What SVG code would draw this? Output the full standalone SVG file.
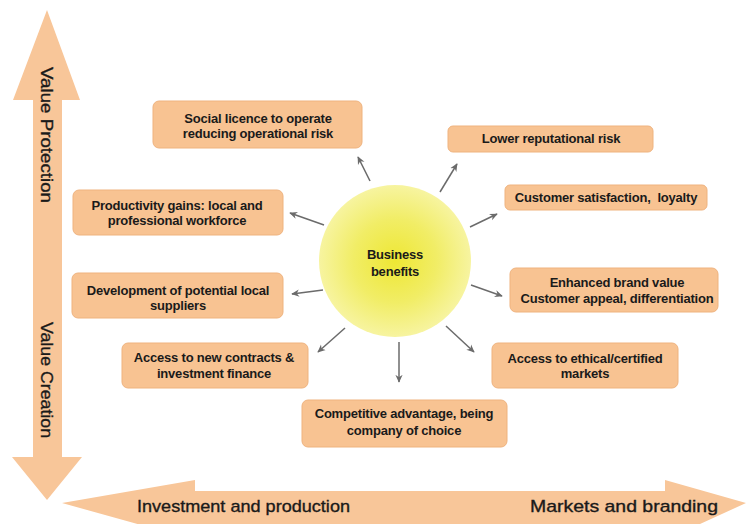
<svg xmlns="http://www.w3.org/2000/svg" width="748" height="524" viewBox="0 0 748 524">
  <defs>
    <radialGradient id="sunFill" cx="50%" cy="50%" r="50%">
      <stop offset="0" stop-color="#eee734"/>
      <stop offset="0.55" stop-color="#f1ed66"/>
      <stop offset="1" stop-color="#f7f4a0"/>
    </radialGradient>
    <marker id="head" viewBox="0 0 10 10" refX="9" refY="5" markerWidth="8" markerHeight="8" orient="auto" markerUnits="userSpaceOnUse">
      <path d="M0,0.5 L10,5 L0,9.5 L3,5 Z" fill="#6b6b6b"/>
    </marker>
    <style>
      .axis { fill: #f8c699; }
      .box { fill: #f8c392; stroke: #efb37f; stroke-width: 1; }
      .lbl { font-family: "Liberation Sans", Arial, sans-serif; font-weight: bold; font-size: 13px; letter-spacing: -0.2px; fill: #1a1a1a; text-anchor: middle; }
      .axlbl { font-family: "Liberation Sans", Arial, sans-serif; font-size: 17px; fill: #1a1a1a; stroke: #1a1a1a; stroke-width: 0.35; }
      .link { stroke: #6b6b6b; stroke-width: 1.5; fill: none; marker-end: url(#head); }
    </style>
  </defs>

  <rect width="748" height="524" fill="#ffffff"/>

  <!-- vertical axis: value protection / value creation -->
  <g id="axis-vertical">
    <polygon class="axis" points="47,10 80,100 62,100 62,457 82,457 47,500 12,457 33,457 33,100 13,100"/>
    <text class="axlbl" transform="translate(41,135) rotate(90)" text-anchor="middle" textLength="136" lengthAdjust="spacingAndGlyphs">Value Protection</text>
    <text class="axlbl" transform="translate(41,380) rotate(90)" text-anchor="middle" textLength="116" lengthAdjust="spacingAndGlyphs">Value Creation</text>
  </g>

  <!-- horizontal axis: investment / markets -->
  <g id="axis-horizontal">
    <polygon class="axis" points="62,503 195,480 195,491 665,491 665,480 746,503 665,540 665,530 195,530 195,540"/>
    <text class="axlbl" x="137" y="512" textLength="213" lengthAdjust="spacingAndGlyphs">Investment and production</text>
    <text class="axlbl" x="530" y="512" textLength="188" lengthAdjust="spacingAndGlyphs">Markets and branding</text>
  </g>

  <!-- central node -->
  <g id="business-benefits">
    <circle cx="395" cy="261" r="76" fill="url(#sunFill)"/>
    <text class="lbl" x="395" y="259">Business</text>
    <text class="lbl" x="395" y="276">benefits</text>
  </g>

  <g id="social-licence">
    <rect class="box" x="153" y="101" width="209" height="47" rx="6"/>
    <text class="lbl" x="258" y="123">Social licence to operate</text>
    <text class="lbl" x="258" y="138">reducing operational risk</text>
  </g>

  <g id="lower-risk">
    <rect class="box" x="448" y="126" width="205" height="26" rx="5"/>
    <text class="lbl" x="551" y="143">Lower reputational risk</text>
  </g>

  <g id="customer-satisfaction">
    <rect class="box" x="505" y="185" width="202" height="25" rx="5"/>
    <text class="lbl" x="606" y="202">Customer satisfaction,&#160; loyalty</text>
  </g>

  <g id="productivity">
    <rect class="box" x="73" y="190" width="210" height="45" rx="6"/>
    <text class="lbl" x="177" y="210">Productivity gains: local and</text>
    <text class="lbl" x="177" y="225">professional workforce</text>
  </g>

  <g id="brand-value">
    <rect class="box" x="510" y="268" width="208" height="44" rx="6"/>
    <text class="lbl" x="617" y="287">Enhanced brand value</text>
    <text class="lbl" x="617" y="303">Customer appeal, differentiation</text>
  </g>

  <g id="local-suppliers">
    <rect class="box" x="72" y="273" width="211" height="45" rx="6"/>
    <text class="lbl" x="178" y="295">Development of potential local</text>
    <text class="lbl" x="178" y="310">suppliers</text>
  </g>

  <g id="new-contracts">
    <rect class="box" x="122" y="343" width="186" height="45" rx="6"/>
    <text class="lbl" x="214" y="362">Access to new contracts &amp;</text>
    <text class="lbl" x="214" y="378">investment finance</text>
  </g>

  <g id="certified-markets">
    <rect class="box" x="492" y="343" width="186" height="45" rx="6"/>
    <text class="lbl" x="585" y="363">Access to ethical/certified</text>
    <text class="lbl" x="585" y="378">markets</text>
  </g>

  <g id="competitive-advantage">
    <rect class="box" x="302" y="400" width="205" height="47" rx="6"/>
    <text class="lbl" x="404" y="418">Competitive advantage, being</text>
    <text class="lbl" x="404" y="435">company of choice</text>
  </g>

  <!-- connectors radiating from the centre -->
  <g id="connectors">
    <line class="link" x1="370" y1="181" x2="358" y2="157"/>
    <line class="link" x1="440" y1="192" x2="457" y2="164"/>
    <line class="link" x1="470" y1="227" x2="497" y2="214"/>
    <line class="link" x1="471" y1="285" x2="502" y2="296"/>
    <line class="link" x1="446" y1="326" x2="474" y2="352"/>
    <line class="link" x1="399" y1="342" x2="399" y2="382"/>
    <line class="link" x1="345" y1="328" x2="318" y2="352"/>
    <line class="link" x1="323" y1="290" x2="292" y2="294"/>
    <line class="link" x1="324" y1="225" x2="290" y2="213"/>
  </g>
</svg>
